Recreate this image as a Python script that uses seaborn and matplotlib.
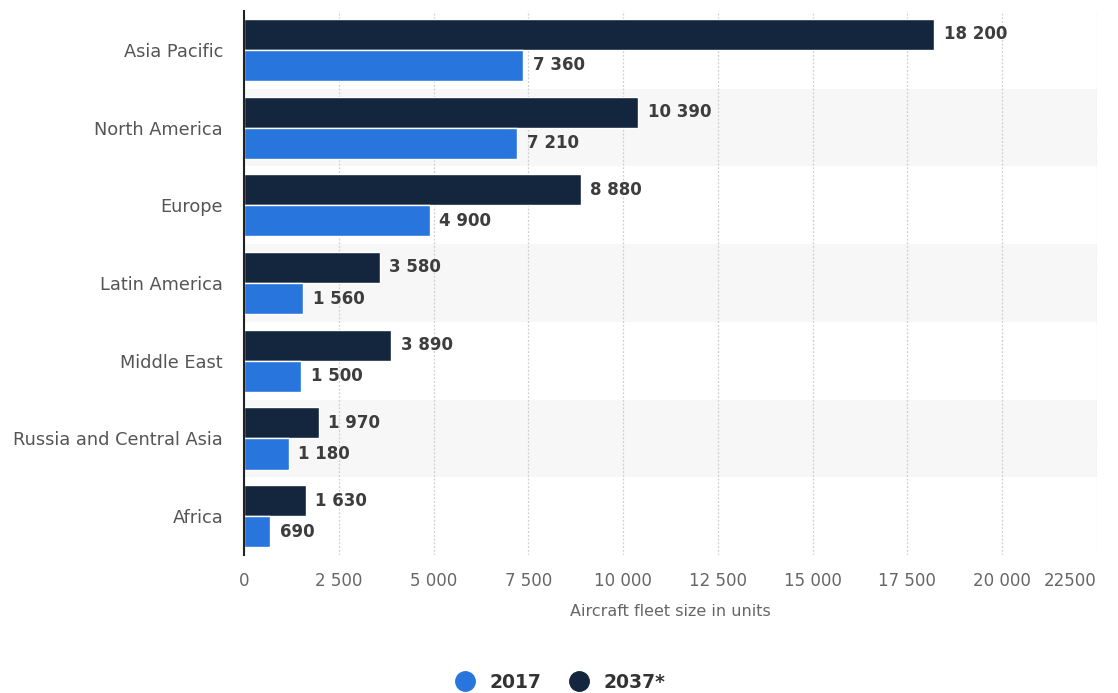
import matplotlib
matplotlib.use("Agg")
import matplotlib.pyplot as plt
from matplotlib.lines import Line2D
import seaborn as sns
import pandas as pd

# Aircraft fleet size by region
regions = ["Asia Pacific", "North America", "Europe", "Latin America",
           "Middle East", "Russia and Central Asia", "Africa"]
fleet_2017 = [7360, 7210, 4900, 1560, 1500, 1180, 690]
fleet_2037 = [18200, 10390, 8880, 3580, 3890, 1970, 1630]
years = ["2017", "2037*"]
x_ticks = [0, 2500, 5000, 7500, 10000, 12500, 15000, 17500, 20000, 22500]

BLUE = "#2876dd"
NAVY = "#13263d"

df = pd.DataFrame({
    "region": regions * 2,
    "year": [years[0]] * len(regions) + [years[1]] * len(regions),
    "value": fleet_2017 + fleet_2037,
})

sns.set_theme(style="white")
plt.rcParams["font.family"] = ["DejaVu Sans"]

fig = plt.figure(figsize=(11.18, 6.93), dpi=100)
ax = fig.add_axes([0.2182, 0.1991, 0.9812 - 0.2182, 0.9841 - 0.1991])

# alternating row bands
for i in range(len(regions)):
    if i % 2 == 1:
        ax.axhspan(i - 0.5, i + 0.5, color="#f7f7f7", zorder=0, lw=0)

sns.barplot(data=df, y="region", x="value", hue="year",
            order=regions, hue_order=[years[1], years[0]],
            palette={years[0]: BLUE, years[1]: NAVY}, saturation=1,
            orient="h", width=0.8, edgecolor="white", linewidth=1.0,
            legend=False, ax=ax, zorder=3)


def fmt(v):
    return f"{v:,}".replace(",", " ")


series_for_container = [fleet_2037, fleet_2017]
for cont, vals in zip(ax.containers, series_for_container):
    ax.bar_label(cont, labels=[fmt(v) for v in vals], padding=7,
                 fontsize=12, fontweight="bold", color="#3d3d3d")

ax.set_xlim(0, 22500)
ax.set_ylim(len(regions) - 0.5, -0.5)
ax.set_xticks(x_ticks)
tick_text = [fmt(v) for v in x_ticks]
tick_text[-1] = tick_text[-1].replace(" ", "")
ax.set_xticklabels(tick_text, fontsize=12, color="#666666")
# keep the last tick label inside the canvas
ax.get_xticklabels()[-1].set_horizontalalignment("right")
ax.tick_params(axis="x", length=0, pad=12)
ax.tick_params(axis="y", length=0, pad=15, labelsize=12.8, labelcolor="#555555")
ax.set_ylabel("")
ax.set_xlabel("Aircraft fleet size in units", fontsize=11.5, color="#666666",
              labelpad=10)

ax.xaxis.grid(True, linestyle=(0, (1.5, 1.5)), color="#cfcfcf", linewidth=0.9)
ax.set_axisbelow(True)
for s in ["top", "right", "bottom"]:
    ax.spines[s].set_visible(False)
ax.spines["left"].set_color("#222222")
ax.spines["left"].set_linewidth(1.5)
ax.spines["left"].set_zorder(5)

handles = [Line2D([0], [0], marker="o", linestyle="", markersize=14,
                  markerfacecolor=BLUE, markeredgecolor=BLUE),
           Line2D([0], [0], marker="o", linestyle="", markersize=14,
                  markerfacecolor=NAVY, markeredgecolor=NAVY)]
fig.legend(handles, years, loc="center", ncol=2, frameon=False,
           bbox_to_anchor=(556 / 1118, 1 - 682 / 693),
           prop={"weight": "bold", "size": 13.5}, labelcolor="#333333",
           handletextpad=0.3, columnspacing=1.0)

fig.savefig("out.png", dpi=100)
